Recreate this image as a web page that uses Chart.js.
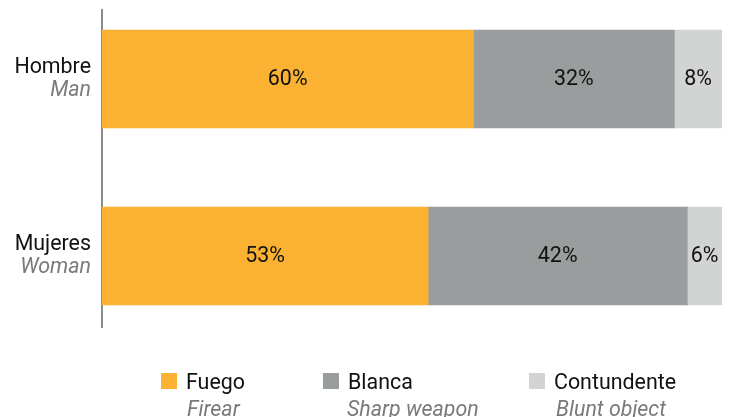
<!DOCTYPE html>
<html>
<head>
<meta charset="utf-8">
<script src="https://cdn.jsdelivr.net/npm/chart.js@4/dist/chart.umd.min.js"></script>
<style>
  html, body { margin: 0; padding: 0; background: #ffffff; }
  #wrap { position: relative; width: 729px; height: 417px; }
</style>
</head>
<body>
<div id="wrap"><canvas id="c" width="729" height="417"></canvas></div>
<script>
// Categories (Spanish label + English translation)
const categories = ['Hombre', 'Mujeres'];
const categoriesEn = ['Man', 'Woman'];

// Weapon types (Spanish label + English translation)
const seriesNames = ['Fuego', 'Blanca', 'Contundente'];
const seriesNamesEn = ['Firear', 'Sharp weapon', 'Blunt object'];

// Share of homicides by weapon type (%), one array per weapon type
const fuego = [59.9, 52.6];
const blanca = [32.4, 41.8];
const contundente = [7.7, 5.6];

const seriesColors = ['#FBB233', '#9A9D9D', '#D2D3D3'];
const seriesValues = [fuego, blanca, contundente];

const FONT = 'Roboto, "Noto Sans", sans-serif';
const SIZE = '21.4px ';

const datasets = seriesNames.map((name, i) => ({
  label: name,
  data: seriesValues[i].map((v, j) => ({ x: v, y: j })),
  backgroundColor: seriesColors[i],
  borderWidth: 0,
  barThickness: 98,
  stack: 'total'
}));

// Category labels, value labels and the two-line legend
const annotate = {
  id: 'annotate',
  afterDatasetsDraw(chart) {
    const ctx = chart.ctx;
    const yScale = chart.scales.y;
    ctx.save();

    // category labels left of the axis
    ctx.textAlign = 'right';
    ctx.textBaseline = 'alphabetic';
    categories.forEach((cat, j) => {
      const cy = yScale.getPixelForValue(j);
      ctx.font = SIZE + FONT;
      ctx.fillStyle = '#111111';
      ctx.fillText(cat, 91, cy - 6);
      ctx.font = 'italic ' + SIZE + FONT;
      ctx.fillStyle = '#7a7a7a';
      ctx.fillText(categoriesEn[j], 91, cy + 17);
    });

    // value labels centred in each segment
    ctx.textAlign = 'center';
    ctx.textBaseline = 'middle';
    ctx.font = SIZE + FONT;
    ctx.fillStyle = '#111111';
    chart.data.datasets.forEach((ds, i) => {
      const meta = chart.getDatasetMeta(i);
      meta.data.forEach((bar, j) => {
        const v = seriesValues[i][j];
        const x = (bar.x + bar.base) / 2;
        ctx.fillText(Math.round(v) + '%', x, bar.y + 1);
      });
    });

    // legend
    const swatchX = [161, 323, 529];
    const textX = [186, 348, 554];
    const subX = [187, 347, 556];
    ctx.textAlign = 'left';
    ctx.textBaseline = 'alphabetic';
    chart.data.datasets.forEach((ds, i) => {
      ctx.fillStyle = ds.backgroundColor;
      ctx.fillRect(swatchX[i], 373, 16, 16);
      ctx.font = SIZE + FONT;
      ctx.fillStyle = '#111111';
      ctx.fillText(ds.label, textX[i], 389);
      ctx.font = 'italic ' + SIZE + FONT;
      ctx.fillStyle = '#7a7a7a';
      ctx.fillText(seriesNamesEn[i], subX[i], 416);
    });

    ctx.restore();
  }
};

new Chart(document.getElementById('c'), {
  type: 'bar',
  data: { datasets },
  options: {
    indexAxis: 'y',
    responsive: false,
    animation: false,
    events: [],
    layout: { padding: { top: 10, bottom: 90, left: 0, right: 7 } },
    plugins: { legend: { display: false }, tooltip: { enabled: false } },
    scales: {
      x: {
        type: 'linear',
        stacked: true,
        min: 0,
        max: 100,
        display: false
      },
      y: {
        type: 'linear',
        stacked: true,
        reverse: true,
        offset: false,
        min: -0.39,
        max: 1.401,
        grid: { display: false, drawTicks: false, offset: false },
        ticks: { display: false },
        border: { display: true, color: '#8c8c8c', width: 2 },
        afterFit(scale) { scale.width = 102; }
      }
    }
  },
  plugins: [annotate]
});
</script>
</body>
</html>
